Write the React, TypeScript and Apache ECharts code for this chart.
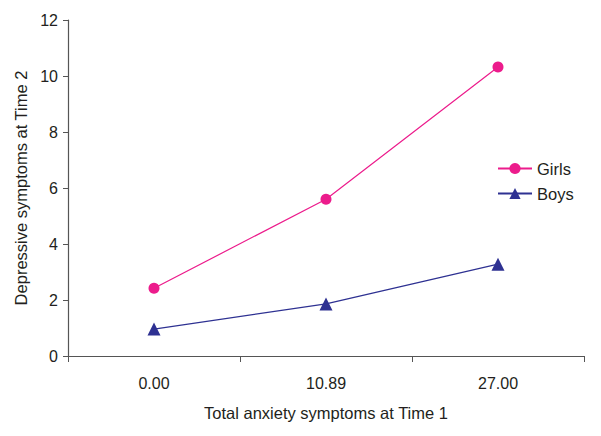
import React, { useEffect, useRef } from "react";
import * as echarts from "echarts";

const categories = ["0.00", "10.89", "27.00"];
const girls = [2.42, 5.6, 10.32];
const boys = [0.96, 1.86, 3.28];
const yTicks = { min: 0, max: 12, interval: 2 };

export default function App() {
  const ref = useRef<HTMLDivElement>(null);
  useEffect(() => {
    if (!ref.current) return;
    const chart = echarts.init(ref.current, null, { renderer: "svg" });
    const font = "Liberation Sans, Arial, sans-serif";
    chart.setOption({
      animation: false,
      backgroundColor: "#ffffff",
      textStyle: { fontFamily: font },
      grid: { left: 68, top: 20, right: 17, bottom: 80, containLabel: false },
      legend: {
        orient: "vertical",
        left: 492,
        top: 155,
        itemWidth: 34,
        itemHeight: 14,
        itemGap: 8,
        textStyle: { fontSize: 16.5, color: "#231f20", fontFamily: font },
        data: ["Girls", "Boys"],
      },
      xAxis: {
        type: "category",
        data: categories,
        boundaryGap: true,
        name: "Total anxiety symptoms at Time 1",
        nameLocation: "middle",
        nameGap: 48,
        nameTextStyle: { fontSize: 16.5, color: "#231f20", fontFamily: font },
        axisLine: { lineStyle: { color: "#555555", width: 1.2 } },
        axisTick: { show: true, alignWithLabel: false, length: 6, lineStyle: { color: "#555555" } },
        axisLabel: { fontSize: 16, color: "#231f20", margin: 19, fontFamily: font },
        splitLine: { show: false },
      },
      yAxis: {
        type: "value",
        min: yTicks.min,
        max: yTicks.max,
        interval: yTicks.interval,
        name: "Depressive symptoms at Time 2",
        nameLocation: "middle",
        nameGap: 37,
        nameTextStyle: { fontSize: 16.5, color: "#231f20", fontFamily: font },
        axisLine: { show: true, lineStyle: { color: "#555555", width: 1.2 } },
        axisTick: { show: true, length: 5, lineStyle: { color: "#555555" } },
        axisLabel: { fontSize: 16, color: "#231f20", margin: 10, fontFamily: font },
        splitLine: { show: false },
      },
      series: [
        {
          name: "Girls",
          type: "line",
          data: girls,
          symbol: "circle",
          symbolSize: 11,
          lineStyle: { color: "#ec1c8c", width: 1.2 },
          itemStyle: { color: "#ec1c8c" },
        },
        {
          name: "Boys",
          type: "line",
          data: boys,
          symbol: "triangle",
          symbolSize: 13,
          lineStyle: { color: "#2e3192", width: 1.2 },
          itemStyle: { color: "#2e3192" },
        },
      ],
    });
    return () => chart.dispose();
  }, []);
  return <div ref={ref} style={{ width: 601, height: 436, margin: -8 }} />;
}
